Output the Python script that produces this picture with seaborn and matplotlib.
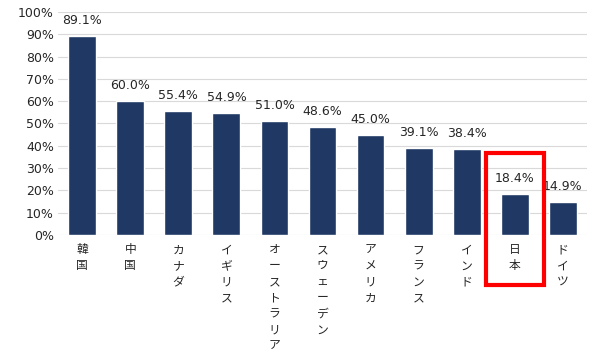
import matplotlib
matplotlib.use("Agg")
import matplotlib.pyplot as plt
import seaborn as sns
import pandas as pd
from matplotlib.patches import Rectangle

countries = ["韓国", "中国", "カナダ", "イギリス", "オーストラリア", "スウェーデン",
             "アメリカ", "フランス", "インド", "日本", "ドイツ"]
rates = [89.1, 60.0, 55.4, 54.9, 51.0, 48.6, 45.0, 39.1, 38.4, 18.4, 14.9]
highlight = "日本"

df = pd.DataFrame({"country": countries, "rate": rates})

sns.set_style("white")
plt.rcParams['font.family'] = ['DejaVu Sans', 'Noto Sans CJK JP']

fig, ax = plt.subplots(figsize=(6, 3.61), dpi=100)
fig.subplots_adjust(left=0.097, right=0.978, bottom=0.349, top=0.967)

sns.barplot(df, x="country", y="rate", color="#1F3864", width=0.58,
            saturation=1, ax=ax, zorder=3)

ax.set_ylim(0, 100)
ax.set_yticks(range(0, 101, 10))
ax.set_yticklabels([f"{v}%" for v in range(0, 101, 10)], fontsize=9, color="#262626")
ax.yaxis.grid(True, color="#d9d9d9", linestyle="-", linewidth=0.8, zorder=0)
ax.set_xlim(-0.5, len(countries) - 0.5)
for s in ax.spines.values():
    s.set_visible(False)
ax.tick_params(axis="both", length=0, pad=3)

ax.set_xticks(range(len(countries)))
ax.set_xticklabels(["\n".join(c) for c in countries], va="top",
                   fontsize=8.5, family=['Noto Sans CJK JP', 'DejaVu Sans'],
                   color="#262626", linespacing=1.3)
ax.tick_params(axis="x", pad=6)
ax.set_xlabel("")
ax.set_ylabel("")

for i, v in enumerate(rates):
    ax.text(i, v + 4, f"{v:.1f}%", ha="center", va="bottom", fontsize=9, color="#262626")

hi = countries.index(highlight)
ax.add_patch(Rectangle((hi - 0.6, -22.4), 1.2, 59.2, fill=False, edgecolor="#FF0000",
                       linewidth=3, clip_on=False, zorder=5))

fig.savefig("out.png", dpi=100)
